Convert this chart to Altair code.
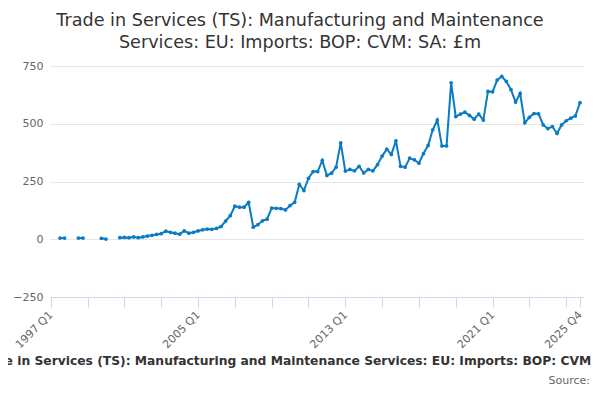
import altair as alt
import pandas as pd

# quarterly series, 1997 Q1 .. 2025 Q4 (None = no published value)
years = list(range(1997, 2026))
quarters = [f"{y} Q{q}" for y in years for q in range(1, 5)]

imports_gbp_m = [
    None, None, 5, 5, None, None, 5, 5,
    None, None, None, 4, 1, None, None, 7,
    8, 7, 10, 7, 10, 14, 17, 21,
    24, 35, 30, 26, 22, 36, 26, 30,
    36, 41, 44, 43, 47, 55, 79, 102,
    143, 139, 139, 160, 52, 63, 80, 87,
    135, 134, 133, 127, 146, 160, 238, 211,
    264, 293, 293, 341, 276, 286, 312, 417,
    295, 302, 296, 316, 287, 302, 296, 323,
    360, 390, 367, 426, 316, 312, 351, 344,
    329, 371, 406, 474, 516, 404, 404, 677,
    531, 542, 550, 536, 520, 542, 516, 640,
    638, 689, 705, 683, 648, 594, 631, 504,
    528, 544, 543, 495, 479, 488, 458, 495,
    513, 524, 534, 591,
]

labelled_quarters = ["1997 Q1", "2005 Q1", "2013 Q1", "2021 Q1", "2025 Q4"]
y_ticks = [-250, 0, 250, 500, 750]

title_lines = [
    "Trade in Services (TS): Manufacturing and Maintenance",
    "Services: EU: Imports: BOP: CVM: SA: £m",
]
footer_title = "Trade in Services (TS): Manufacturing and Maintenance Services: EU: Imports: BOP: CVM: SA: £m"
footer_source = "Source:"

df = pd.DataFrame({
    "idx": list(range(len(quarters))),
    "quarter": quarters,
    "value": imports_gbp_m,
})

# ticks every two years plus the last quarter, labels only on a few
tick_values = list(range(0, len(quarters), 8)) + [len(quarters) - 1]
label_expr = "''"
for q in reversed(labelled_quarters):
    label_expr = f"datum.value == {quarters.index(q)} ? '{q}' : ({label_expr})"

FONT = "DejaVu Sans"
BLUE = "#0b7bc4"

base = alt.Chart(df).encode(
    x=alt.X("idx:Q",
            scale=alt.Scale(domain=[-0.17, 115.87], nice=False, zero=False),
            axis=alt.Axis(values=tick_values, labelExpr=label_expr, title=None,
                          labelAngle=-45, labelAlign="right", labelBaseline="middle",
                          labelColor="#666666", labelFontSize=11, labelFont=FONT,
                          grid=False, domainColor="#ccd6eb", tickColor="#ccd6eb",
                          tickSize=10, labelPadding=6, labelOverlap=False)),
    y=alt.Y("value:Q",
            scale=alt.Scale(domain=[-250, 750], nice=False),
            axis=alt.Axis(values=y_ticks, title=None, domain=False, ticks=False,
                          labelColor="#666666", labelFontSize=11, labelFont=FONT,
                          gridColor="#e6e6e6", labelPadding=7)),
)

line = base.mark_line(color=BLUE, strokeWidth=2,
                      invalid="break-paths-show-domains",
                      point=alt.OverlayMarkDef(color=BLUE, filled=True, size=14))

footer = alt.Chart(pd.DataFrame({"t": [footer_title]})).mark_text(
    font=FONT, fontSize=12.3, fontWeight="bold", color="#333333", align="center"
).encode(text="t:N", x=alt.value(262), y=alt.value(295))

source = alt.Chart(pd.DataFrame({"t": [footer_source]})).mark_text(
    font=FONT, fontSize=11, color="#666666", align="right"
).encode(text="t:N", x=alt.value(540), y=alt.value(315))

chart = alt.layer(line, footer, source).properties(
    width=534,
    height=231,
    autosize=alt.AutoSizeParams(type="none"),
    padding={"left": 42, "top": 58, "right": 8, "bottom": 95},
    title=alt.TitleParams(text=title_lines, fontSize=17.6, font=FONT, fontWeight="normal",
                          color="#333333", anchor="middle", dx=-17, offset=8,
                          lineHeight=22),
).configure_view(stroke=None)

chart.save("out.html", embed_options={"renderer": "svg", "actions": False})
